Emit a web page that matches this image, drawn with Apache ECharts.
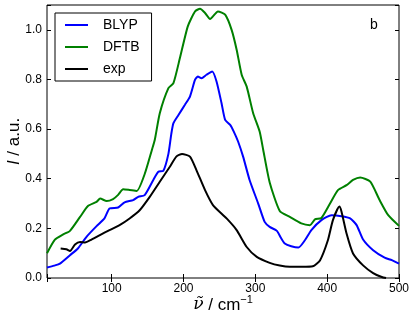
<!DOCTYPE html>
<html>
<head>
<meta charset="utf-8">
<script src="https://cdn.jsdelivr.net/npm/echarts@6/dist/echarts.min.js"></script>
<style>
  html, body { margin: 0; padding: 0; background: #fff; }
  #chart { width: 415px; height: 322px; }
</style>
</head>
<body>
<div id="chart"></div>
<script>
// BLYP spectrum
var blypX = [10, 20, 28, 42, 53, 65, 79, 90, 97, 109, 118, 130, 137, 146, 158, 165, 172, 179, 183, 186, 193, 202, 209, 216, 220, 225, 232, 240, 246, 253, 258, 265, 270, 276, 283, 292, 304, 313, 320, 330, 336, 341, 350, 360, 369, 378, 392, 406, 420, 432, 441, 450, 464, 480, 490, 500];
var blypY = [0.042, 0.05, 0.058, 0.092, 0.119, 0.166, 0.209, 0.24, 0.28, 0.284, 0.305, 0.314, 0.327, 0.334, 0.395, 0.428, 0.432, 0.50, 0.58, 0.624, 0.657, 0.698, 0.731, 0.798, 0.812, 0.805, 0.819, 0.832, 0.792, 0.704, 0.637, 0.617, 0.59, 0.55, 0.489, 0.395, 0.30, 0.226, 0.206, 0.19, 0.16, 0.139, 0.128, 0.123, 0.152, 0.193, 0.233, 0.253, 0.249, 0.24, 0.213, 0.155, 0.112, 0.082, 0.072, 0.058];

// DFTB spectrum
var dftbX = [10, 21, 32, 42, 56, 67, 79, 84, 93, 102, 109, 116, 125, 135, 146, 156, 160, 167, 179, 186, 195, 206, 216, 223, 230, 237, 248, 258, 267, 274, 281, 288, 297, 306, 311, 320, 334, 348, 364, 376, 383, 392, 404, 415, 427, 436, 446, 460, 473, 485, 500];
var dftbY = [0.10, 0.155, 0.175, 0.19, 0.246, 0.29, 0.307, 0.32, 0.31, 0.318, 0.335, 0.358, 0.355, 0.351, 0.419, 0.516, 0.556, 0.664, 0.765, 0.785, 0.886, 1.014, 1.074, 1.085, 1.068, 1.044, 1.074, 1.061, 1.0, 0.92, 0.819, 0.771, 0.664, 0.59, 0.516, 0.385, 0.27, 0.246, 0.22, 0.213, 0.236, 0.242, 0.30, 0.354, 0.374, 0.395, 0.405, 0.388, 0.314, 0.253, 0.21];

// experiment
var expX = [29, 37, 42, 49, 56, 63, 72, 83, 97, 111, 125, 139, 153, 167, 181, 190, 198, 209, 218, 230, 241, 260, 274, 288, 302, 320, 334, 348, 365, 380, 390, 401, 408, 417, 420, 427, 436, 450, 464, 476, 482];
var expY = [0.119, 0.116, 0.109, 0.135, 0.145, 0.143, 0.155, 0.172, 0.193, 0.213, 0.24, 0.273, 0.327, 0.388, 0.448, 0.489, 0.50, 0.489, 0.435, 0.354, 0.294, 0.24, 0.193, 0.125, 0.085, 0.061, 0.05, 0.045, 0.045, 0.047, 0.071, 0.152, 0.233, 0.288, 0.267, 0.179, 0.099, 0.051, 0.02, 0.004, 0.0];

var seriesNames = ['BLYP', 'DFTB', 'exp'];
var xTickLabels = ['100', '200', '300', '400', '500'];
var yTickLabels = ['0.0', '0.2', '0.4', '0.6', '0.8', '1.0'];

function pairs(xs, ys) {
  return xs.map(function (x, i) { return [x, ys[i]] });
}

var font = 'Liberation Sans, Arial, sans-serif';
var tick = { show: true, inside: true, length: 4, lineStyle: { color: '#000' } };

var chart = echarts.init(document.getElementById('chart'), null, { renderer: 'canvas' });
chart.setOption({
  animation: false,
  backgroundColor: '#fff',
  textStyle: { fontFamily: font },
  grid: {
    left: 47, right: 16, top: 5, bottom: 44,
    outerBoundsMode: 'none', containLabel: false,
    show: true, borderColor: '#000', borderWidth: 1, backgroundColor: '#fff'
  },
  legend: {
    data: seriesNames,
    orient: 'vertical',
    left: 55, top: 13,
    padding: [4, 12, 4, 10],
    icon: 'rect',
    itemGap: 6,
    itemWidth: 23, itemHeight: 2,
    borderColor: '#000', borderWidth: 1, borderRadius: 0,
    backgroundColor: '#fff',
    textStyle: { fontSize: 14, lineHeight: 16, color: '#000', fontFamily: font, padding: [0, 0, 0, 10] }
  },
  xAxis: [{
    type: 'value', min: 10, max: 500, splitNumber: 5,
    axisLine: { show: false }, splitLine: { show: false },
    axisTick: tick,
    axisLabel: {
      fontSize: 12, color: '#000', margin: 5,
      formatter: function (v) { return xTickLabels.indexOf(String(v)) >= 0 ? String(v) : '' }
    },
    name: '{i|ν̃} / cm{s|−1}',
    nameLocation: 'middle', nameGap: 16, nameMoveOverlap: false,
    nameTextStyle: {
      fontSize: 17, color: '#000', fontFamily: font,
      rich: {
        i: { fontSize: 17, fontStyle: 'italic', fontFamily: 'DejaVu Serif', lineHeight: 22 },
        s: { fontSize: 11, lineHeight: 22, verticalAlign: 'top', padding: [0, 0, 7, 0] }
      }
    }
  }, {
    type: 'value', min: 10, max: 500, splitNumber: 5, position: 'top',
    axisLine: { show: false }, splitLine: { show: false },
    axisTick: tick, axisLabel: { show: false }
  }],
  yAxis: [{
    type: 'value', min: 0, max: 1.1, interval: 0.2,
    axisLine: { show: false }, splitLine: { show: false },
    axisTick: tick,
    axisLabel: {
      fontSize: 12, color: '#000', margin: 5,
      formatter: function (v) {
        var s = v.toFixed(1);
        return yTickLabels.indexOf(s) >= 0 && v <= 1.0001 ? s : '';
      }
    },
    name: '{i|I} / a.u.',
    nameLocation: 'middle', nameGap: 24, nameMoveOverlap: false,
    nameTextStyle: {
      fontSize: 17, color: '#000', fontFamily: font,
      rich: { i: { fontSize: 17, fontStyle: 'italic', fontFamily: font } }
    }
  }, {
    type: 'value', min: 0, max: 1.1, interval: 0.2, position: 'right',
    axisLine: { show: false }, splitLine: { show: false },
    axisTick: tick, axisLabel: { show: false }
  }],
  graphic: [{
    type: 'text', left: 370, top: 18,
    style: { text: 'b', fontSize: 14, fill: '#000', fontFamily: font }
  }],
  series: [{
    name: 'BLYP', type: 'line', symbol: 'none', smooth: 0.2,
    data: pairs(blypX, blypY),
    lineStyle: { color: '#0000ff', width: 2 }, itemStyle: { color: '#0000ff' }
  }, {
    name: 'DFTB', type: 'line', symbol: 'none', smooth: 0.2,
    data: pairs(dftbX, dftbY),
    lineStyle: { color: '#008000', width: 2 }, itemStyle: { color: '#008000' }
  }, {
    name: 'exp', type: 'line', symbol: 'none', smooth: 0.2,
    data: pairs(expX, expY),
    lineStyle: { color: '#000000', width: 2 }, itemStyle: { color: '#000000' }
  }]
});
window.addEventListener('resize', chart.resize);
</script>
</body>
</html>
